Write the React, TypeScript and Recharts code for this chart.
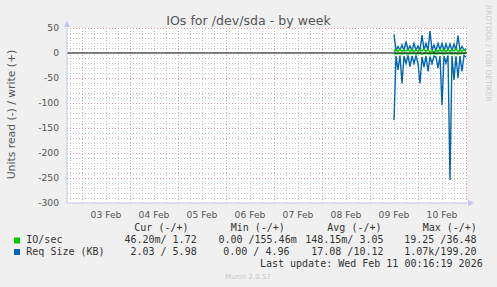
import { LineChart, Line, XAxis, YAxis, CartesianGrid, ReferenceLine } from 'recharts';

// hours since 03 Feb 00:00
const hours = [156, 157, 158, 159, 160, 161, 162, 163, 164, 165, 166, 167, 168, 169, 170, 171, 172, 173, 174,
  175, 176, 177, 178, 179, 180, 181, 182, 183, 184, 185, 186, 187, 188, 189, 190, 191, 192];

const sizeWrite = [37, 5, 13, 6, 16, 5, 23, 6, 14, 5, 19, 6, 14, 5, 36, 6, 19, 5, 44, 6, 16, 5, 19, 6, 19, 5,
  18, 6, 18, 5, 18, 6, 35, 5, 13, 6, 8];
const sizeRead = [-134, -6, -34, -5, -61, -6, -21, -5, -27, -6, -21, -5, -21, -61, -8, -28, -6, -37, -7, -21,
  -6, -8, -30, -6, -104, -6, -20, -5, -254, -6, -54, -6, -50, -6, -37, -5, -8];
const ioWrite = [3, 7, 3, 8, 3, 7, 4, 7, 3, 8, 3, 7, 3, 7, 4, 8, 3, 7, 2, 5, 1, 6, 3, 8, 3, 7, 3, 8, 3, 7, 4,
  8, 3, 7, 3, 7, 3];
const ioRead = [-1, -2, -1, -1, -2, -1, -1, -2, -1, -1, -1, -2, -1, -1, -2, -1, -1, -1, -2, -1, -1, -2, -1,
  -1, -1, -2, -1, -1, -1, -2, -1, -1, -2, -1, -1, -1, -1];

const dayTicks = [12, 36, 60, 84, 108, 132, 156, 180];
const dayLabels = ['03 Feb', '04 Feb', '05 Feb', '06 Feb', '07 Feb', '08 Feb', '09 Feb', '10 Feb'];
const yTicks = [50, 0, -50, -100, -150, -200, -250, -300];

const data = hours.map((h, i) => ({
  hour: h,
  sizeWrite: sizeWrite[i],
  sizeRead: sizeRead[i],
  ioWrite: ioWrite[i],
  ioRead: ioRead[i],
}));

// grid: gray every 10 units / 6 hours, red every 50 units / day
const minorY = Array.from({ length: 35 }, (_, i) => -290 + i * 10).filter((v) => v % 50 !== 0);
const majorY = [-250, -200, -150, -100, -50, 50];
const minorX = Array.from({ length: 33 }, (_, i) => -6 + i * 6).filter((v) => v % 24 !== 0);
const majorX = [0, 24, 48, 72, 96, 120, 144, 168, 192];

const GREEN = '#00cc00';
const BLUE = '#0066b3';
const AXIS = '#c4c4f4';
const MINOR = '#c4c4c4';
const MAJOR = '#e4a0a0';
const MONO = '"DejaVu Sans Mono", monospace';
const SANS = '"DejaVu Sans", sans-serif';

export default function App() {
  return (
    <div style={{ position: 'fixed', left: 0, top: 0, width: 497, height: 287, background: '#f0f0f0' }}>
      <LineChart
        width={497}
        height={287}
        data={data}
        margin={{ top: 28, right: 30, left: 27, bottom: 64 }}
      >
        <CartesianGrid fill="#fff" horizontal={false} vertical={false} />
        {minorY.map((v) => (
          <ReferenceLine key={`ny${v}`} y={v} stroke={MINOR} strokeDasharray="1 2" shapeRendering="crispEdges" />
        ))}
        {minorX.map((v) => (
          <ReferenceLine key={`nx${v}`} x={v} stroke={MINOR} strokeDasharray="1 2" shapeRendering="crispEdges" />
        ))}
        {majorY.map((v) => (
          <ReferenceLine key={`my${v}`} y={v} stroke={MAJOR} strokeDasharray="1 2" shapeRendering="crispEdges" />
        ))}
        {majorX.map((v) => (
          <ReferenceLine key={`mx${v}`} x={v} stroke={MAJOR} strokeDasharray="1 2" shapeRendering="crispEdges" />
        ))}
        <XAxis
          dataKey="hour"
          type="number"
          domain={[-7.5, 192.5]}
          ticks={dayTicks}
          tickFormatter={(v: number) => dayLabels[dayTicks.indexOf(v)] ?? ''}
          tick={{ fontSize: 9.2, fill: '#555', fontFamily: SANS }}
          tickLine={false}
          axisLine={{ stroke: AXIS }}
          height={20}
          allowDataOverflow
        />
        <YAxis
          type="number"
          domain={[-300, 50]}
          ticks={yTicks}
          tick={{ fontSize: 9.2, fill: '#555', fontFamily: SANS }}
          tickLine={false}
          axisLine={{ stroke: AXIS }}
          width={40}
          allowDataOverflow
        />
        <Line type="linear" dataKey="sizeRead" stroke={BLUE} strokeWidth={1.4} dot={false} isAnimationActive={false} />
        <Line type="linear" dataKey="sizeWrite" stroke={BLUE} strokeWidth={1.4} dot={false} isAnimationActive={false} />
        <Line type="linear" dataKey="ioRead" stroke={GREEN} strokeWidth={1.3} dot={false} isAnimationActive={false} />
        <Line type="linear" dataKey="ioWrite" stroke={GREEN} strokeWidth={1.3} dot={false} isAnimationActive={false} />
        <ReferenceLine y={0} stroke="#000" strokeWidth={1.2} />
      </LineChart>

      <svg width={497} height={287} style={{ position: 'absolute', left: 0, top: 0, pointerEvents: 'none' }}>
        <polygon points="64,27 70,27 67,21" fill={AXIS} />
        <polygon points="468,200 468,206 474,203" fill={AXIS} />

        <text x={248.5} y={24.5} textAnchor="middle" fontSize={12.6} fill="#555" fontFamily={SANS}>
          IOs for /dev/sda - by week
        </text>
        <text x={14.5} y={114.5} textAnchor="middle" fontSize={10.8} fill="#555" fontFamily={SANS}
          transform="rotate(-90 14.5 114.5)">
          Units read (-) / write (+)
        </text>
        <text x={485.5} y={53.4} textAnchor="middle" fontSize={7.5} fill="#ccc" fontFamily={SANS}
          transform="rotate(90 485.5 53.4)">
          RRDTOOL / TOBI OETIKER
        </text>

        <g fontFamily={MONO} fontSize={10} fill="#333" style={{ whiteSpace: 'pre' }}>
          <text x={134.3} y={230.5}>Cur (-/+)</text>
          <text x={230.7} y={230.5}>Min (-/+)</text>
          <text x={327.3} y={230.5}>Avg (-/+)</text>
          <text x={422.7} y={230.5}>Max (-/+)</text>

          <rect x={14} y={237.5} width={6} height={6} fill={GREEN} />
          <text x={26.3} y={243.3}>IO/sec</text>
          <text x={196.7} y={243.3} textAnchor="end">46.20m/ 1.72</text>
          <text x={296.7} y={243.3} textAnchor="end">0.00 /155.46m</text>
          <text x={383.5} y={243.3} textAnchor="end">148.15m/ 3.05</text>
          <text x={476.5} y={243.3} textAnchor="end">19.25 /36.48</text>

          <rect x={14} y={249} width={6} height={6} fill={BLUE} />
          <text x={26.3} y={255.3}>Req Size (KB)</text>
          <text x={196.7} y={255.3} textAnchor="end">2.03 / 5.98</text>
          <text x={289.5} y={255.3} textAnchor="end">0.00 / 4.96</text>
          <text x={383.5} y={255.3} textAnchor="end">17.08 /10.12</text>
          <text x={476.5} y={255.3} textAnchor="end">1.07k/199.20</text>

          <text x={482.7} y={266.5} textAnchor="end">Last update: Wed Feb 11 00:16:19 2026</text>
        </g>
        <text x={248} y={279} textAnchor="middle" fontSize={7} fill="#c8c8c8" fontFamily={SANS}>
          Munin 2.0.57
        </text>
      </svg>
    </div>
  );
}
